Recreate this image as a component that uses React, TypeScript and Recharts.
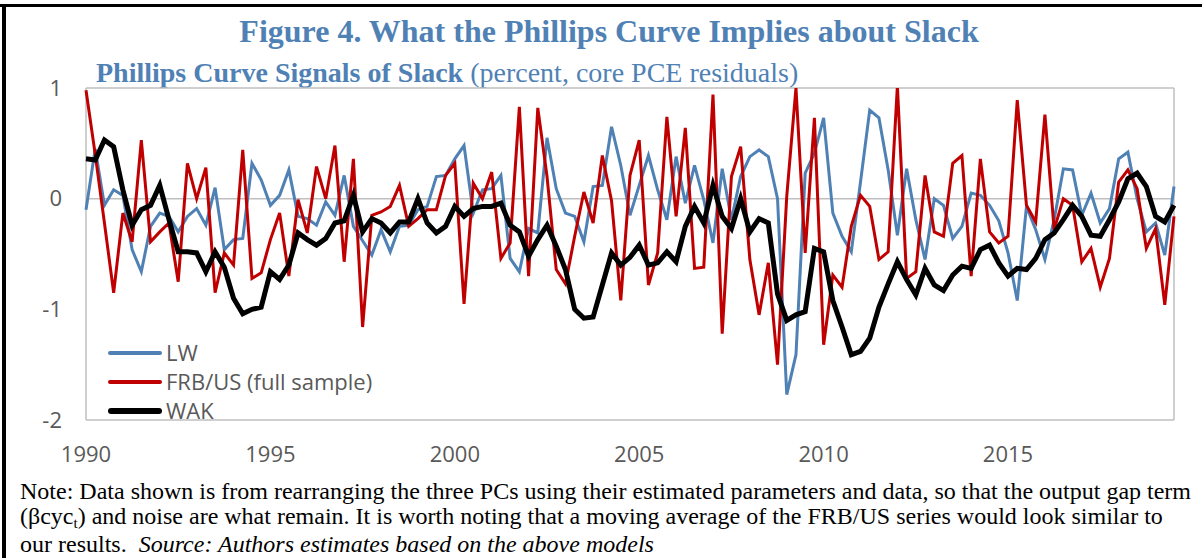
import React from "react";
import { LineChart, Line, XAxis, YAxis, CartesianGrid, ReferenceLine } from "recharts";

// Quarterly data, 1990Q1 .. 2019Q3
const START_YEAR = 1990;
const X_TICKS = [1990, 1995, 2000, 2005, 2010, 2015];
const Y_TICKS = [-2, -1, 0, 1];

const LW = [
  -0.1, 0.45, -0.06, 0.08, 0.03, -0.46, -0.66, -0.25, -0.13, -0.16,
  -0.3, -0.16, -0.09, -0.24, 0.1, -0.46, -0.37, -0.36, 0.32, 0.17,
  -0.06, 0.03, 0.26, -0.16, -0.18, -0.24, -0.03, -0.15, 0.21, -0.25,
  -0.38, -0.51, -0.28, -0.48, -0.25, -0.24, -0.1, -0.07, 0.2, 0.21,
  0.36, 0.48, -0.13, 0.08, 0.09, 0.21, -0.54, -0.66, -0.27, -0.31,
  0.55, 0.09, -0.13, -0.16, -0.39, 0.11, 0.12, 0.65, 0.3, -0.15,
  0.12, 0.39, 0.08, -0.19, 0.38, -0.04, 0.3, -0.01, -0.4, 0.27,
  -0.19, 0.2, 0.38, 0.44, 0.38, 0.0, -1.77, -1.41, 0.23, 0.41,
  0.73, -0.13, -0.34, -0.48, 0.15, 0.8, 0.73, 0.26, -0.33, 0.27,
  -0.19, -0.55, 0.0, -0.06, -0.36, -0.25, 0.05, 0.03, -0.06, -0.2,
  -0.49, -0.92, -0.07, -0.28, -0.55, -0.19, 0.27, 0.26, -0.15, 0.05,
  -0.22, -0.09, 0.36, 0.42, 0.0, -0.3, -0.22, -0.51, 0.11,
];

const FRBUS = [
  0.98, 0.4, -0.22, -0.85, -0.13, -0.39, 0.53, -0.39, -0.3, -0.22,
  -0.75, 0.32, 0.0, 0.28, -0.85, -0.49, -0.6, 0.44, -0.72, -0.67,
  -0.37, -0.13, -0.7, -0.01, -0.31, 0.29, 0.0, 0.48, -0.57, 0.36,
  -1.16, -0.15, -0.12, -0.07, 0.12, -0.25, -0.18, -0.1, -0.1, 0.21,
  0.32, -0.95, 0.14, 0.0, 0.24, -0.54, -0.4, 0.83, -0.7, 0.82,
  0.2, -0.64, -0.77, -0.34, 0.06, -0.22, 0.39, -0.02, -0.92, 0.21,
  0.53, -0.78, -0.49, 0.74, -0.16, 0.64, -0.63, -0.62, 0.94, -1.22,
  0.2, 0.47, -0.55, -1.05, -0.58, -1.5, 0.02, 1.0, -0.49, 0.73,
  -1.32, -0.69, -0.8, -0.25, 0.03, -0.07, -0.55, -0.48, 1.02, -0.72,
  -0.66, 0.21, -0.3, -0.34, 0.32, 0.39, -0.7, 0.36, -0.3, -0.4,
  -0.34, 0.89, -0.06, -0.21, 0.76, -0.28, 0.0, -0.06, -0.57, -0.45,
  -0.8, -0.54, 0.15, 0.26, 0.09, -0.45, -0.27, -0.96, -0.16,
];

const WAK = [
  0.36, 0.35, 0.53, 0.47, 0.08, -0.24, -0.1, -0.06, 0.12, -0.19,
  -0.48, -0.48, -0.49, -0.66, -0.48, -0.62, -0.9, -1.04, -1.0, -0.98,
  -0.66, -0.73, -0.6, -0.31, -0.37, -0.42, -0.36, -0.22, -0.2, 0.03,
  -0.3, -0.18, -0.22, -0.31, -0.21, -0.21, 0.0, -0.22, -0.31, -0.25,
  -0.07, -0.16, -0.09, -0.07, -0.07, -0.04, -0.24, -0.3, -0.52, -0.37,
  -0.24, -0.43, -0.64, -1.0, -1.08, -1.07, -0.78, -0.49, -0.6, -0.53,
  -0.42, -0.6, -0.58, -0.48, -0.57, -0.25, -0.07, -0.22, 0.12, -0.16,
  -0.27, 0.0, -0.3, -0.18, -0.22, -0.86, -1.1, -1.05, -1.02, -0.45,
  -0.48, -0.92, -1.16, -1.41, -1.38, -1.26, -0.98, -0.77, -0.57, -0.73,
  -0.87, -0.63, -0.78, -0.83, -0.69, -0.61, -0.63, -0.46, -0.42, -0.58,
  -0.7, -0.63, -0.64, -0.54, -0.37, -0.31, -0.19, -0.06, -0.16, -0.33,
  -0.34, -0.19, -0.03, 0.18, 0.23, 0.11, -0.16, -0.21, -0.06,
];

const SERIES = [
  { key: "lw", name: "LW", values: LW, color: "#4f81b4", width: 3 },
  { key: "frb", name: "FRB/US (full sample)", values: FRBUS, color: "#c00000", width: 3 },
  { key: "wak", name: "WAK", values: WAK, color: "#000000", width: 5 },
];

const data = LW.map((_, i) => ({
  t: START_YEAR + i / 4,
  lw: LW[i],
  frb: FRBUS[i],
  wak: WAK[i],
}));

const TITLE_BLUE = "#4f81b5";
const AXIS_GREY = "#595959";
const FRAME_GREY = "#bfbfbf";
const SERIF = "'Liberation Serif', 'Times New Roman', serif";
const SANS = "'Open Sans', sans-serif";

export default function App() {
  return (
    <div style={{ position: "absolute", left: 0, top: 0, width: 1202, height: 558, background: "#fff", overflow: "hidden" }}>
      <div style={{ position: "absolute", left: 0, top: 4, width: 1202, height: 3, background: "#000" }} />
      <div style={{ position: "absolute", left: 2, top: 4, width: 4, height: 554, background: "#000" }} />
      <div
        style={{
          position: "absolute", left: 0, width: 1202, top: 12, textAlign: "center",
          fontFamily: SERIF, fontWeight: "bold",
          fontSize: 32, color: TITLE_BLUE, lineHeight: "38px", paddingLeft: 8, whiteSpace: "nowrap",
        }}
      >
        Figure 4. What the Phillips Curve Implies about Slack
      </div>
      <div
        style={{
          position: "absolute", left: 96, top: 58, whiteSpace: "nowrap",
          fontFamily: SERIF, fontSize: 28, color: TITLE_BLUE, lineHeight: "30px",
        }}
      >
        <b>Phillips Curve Signals of Slack</b> (percent, core PCE residuals)
      </div>
      <div style={{ position: "absolute", left: 0, top: 0 }}>
        <LineChart width={1202} height={558} data={data} margin={{ top: 88, right: 28, bottom: 98, left: 26 }}>
          <CartesianGrid
            stroke={FRAME_GREY}
            strokeWidth={1.5}
            horizontalCoordinatesGenerator={({ offset }: any) => [offset.top, offset.top + offset.height]}
            verticalCoordinatesGenerator={({ offset }: any) => [offset.left, offset.left + offset.width]}
          />
          <XAxis
            dataKey="t"
            type="number"
            domain={[START_YEAR, START_YEAR + (LW.length - 1) / 4]}
            ticks={X_TICKS}
            height={40}
            axisLine={false}
            tickLine={false}
            tickSize={0}
            tickMargin={26}
            tick={{ fill: AXIS_GREY, fontSize: 22, fontFamily: SANS }}
          />
          <YAxis
            type="number"
            domain={[-2, 1]}
            ticks={Y_TICKS}
            allowDataOverflow
            width={60}
            axisLine={false}
            tickLine={false}
            tickSize={0}
            tickMargin={24}
            tick={{ fill: AXIS_GREY, fontSize: 22, fontFamily: SANS }}
          />
          <ReferenceLine y={0} stroke={FRAME_GREY} strokeWidth={1.5} />
          {SERIES.map((s) => (
            <Line
              key={s.key}
              type="linear"
              dataKey={s.key}
              name={s.name}
              stroke={s.color}
              strokeWidth={s.width}
              dot={false}
              activeDot={false}
              isAnimationActive={false}
            />
          ))}
        </LineChart>
      </div>
      <div
        style={{
          position: "absolute", left: 108, top: 338, fontFamily: SANS, fontSize: 22,
          color: AXIS_GREY, lineHeight: "29px",
        }}
      >
        {SERIES.map((s) => (
          <div key={s.key} style={{ display: "flex", alignItems: "center", whiteSpace: "nowrap" }}>
            <div style={{ width: 54, height: s.width + 1, background: s.color, borderRadius: 3, marginRight: 4 }} />
            <span>{s.name}</span>
          </div>
        ))}
      </div>
      <div
        style={{
          position: "absolute", left: 20, top: 479, whiteSpace: "nowrap",
          fontFamily: SERIF, fontSize: 24, color: "#000", lineHeight: "25px",
        }}
      >
        <div>Note: Data shown is from rearranging the three PCs using their estimated parameters and data, so that the output gap term</div>
        <div>
          (βcyc<span style={{ fontSize: 15, position: "relative", top: 4 }}>t</span>) and noise are what remain. It is worth noting that a moving average of the FRB/US series would look similar to
        </div>
        <div>
          our results.&nbsp; <i>Source: Authors estimates based on the above models</i>
        </div>
      </div>
    </div>
  );
}
